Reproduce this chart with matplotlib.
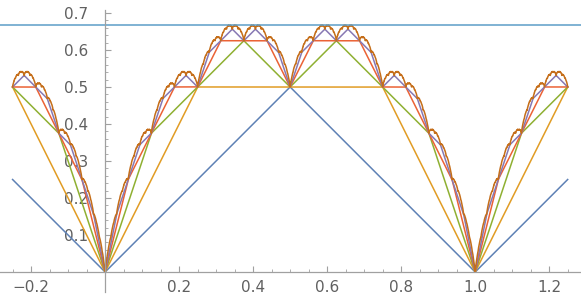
import numpy as np
import matplotlib.pyplot as plt

# Takagi (blancmange) partial sums: sum_{k<n} s(2^k x) / 2^k, s = distance to nearest integer
x_range = [-0.25, 1.25]
term_counts = [1, 2, 3, 4, 5, 14]
max_value = 2 / 3
colors = ['#5E81B5', '#E19C24', '#8FB032', '#EB6235', '#8778B3', '#C56E1A']
hline_color = '#5D9EC7'

x_ticks = [-0.2, 0.2, 0.4, 0.6, 0.8, 1.0, 1.2]
y_ticks = [0.1, 0.2, 0.3, 0.4, 0.5, 0.6, 0.7]


def s(x):
    return np.abs(x - np.round(x))


def takagi(x, n):
    return sum(s(2.0**k * x) / 2.0**k for k in range(n))


x = np.linspace(x_range[0], x_range[1], 12001)

fig = plt.figure(figsize=(5.81, 3.02), dpi=100)
ax = fig.add_axes([0, 0, 1, 1])
ax.set_xlim(-0.284, 1.286)
ax.set_ylim(-0.081, 0.735)

for n, c in zip(term_counts, colors):
    ax.plot(x, takagi(x, n), color=c, lw=1.1)
ax.axhline(max_value, color=hline_color, lw=1.1)

axis_col = '#a0a0a0'
for side in ['top', 'right']:
    ax.spines[side].set_visible(False)
ax.spines['left'].set_position(('data', 0))
ax.spines['bottom'].set_position(('data', 0))
ax.spines['left'].set_bounds(-0.054, 0.708)
for side in ['left', 'bottom']:
    ax.spines[side].set_color(axis_col)
    ax.spines[side].set_linewidth(0.9)

ax.set_xticks(x_ticks)
ax.set_xticklabels([f'{v:.1f}'.replace('-', '\u2212') for v in x_ticks])
ax.set_yticks(y_ticks)
ax.set_yticklabels([f'{v:.1f}' for v in y_ticks])
ax.set_xticks(np.arange(-0.25, 1.30, 0.05), minor=True)
ax.set_yticks(np.arange(0.0, 0.71, 0.02), minor=True)
ax.tick_params(which='major', length=4, width=0.8, color=axis_col,
               labelsize=11, labelcolor='#606060', direction='in')
ax.tick_params(which='minor', length=2, width=0.6, color=axis_col, direction='in')
ax.tick_params(axis='x', pad=6)
ax.tick_params(axis='y', pad=12)

fig.savefig('out.png', dpi=100)
